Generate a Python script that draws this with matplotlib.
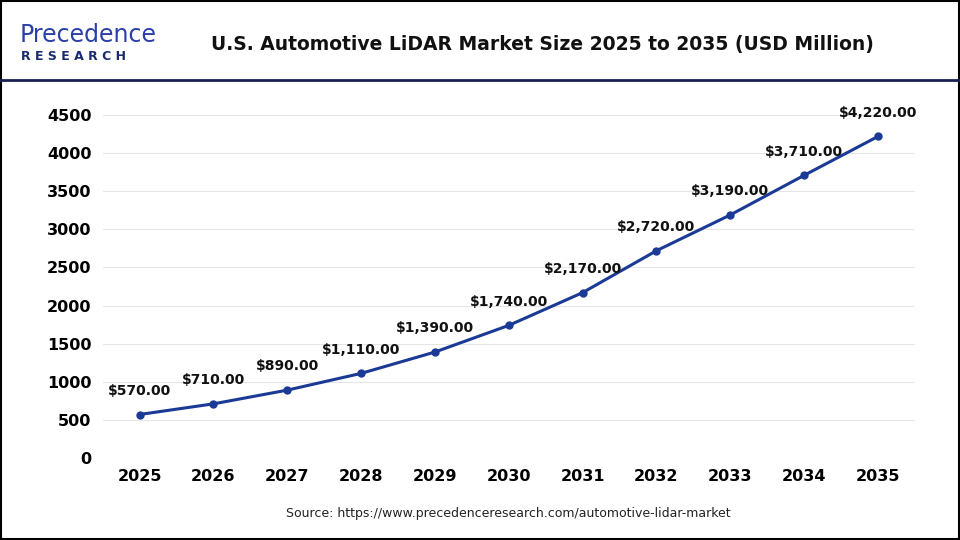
import matplotlib
matplotlib.use("Agg")
import matplotlib.pyplot as plt
from matplotlib.lines import Line2D

years = [2025, 2026, 2027, 2028, 2029, 2030, 2031, 2032, 2033, 2034, 2035]
values = [570, 710, 890, 1110, 1390, 1740, 2170, 2720, 3190, 3710, 4220]
yticks = [0, 500, 1000, 1500, 2000, 2500, 3000, 3500, 4000, 4500]

plt.rcParams['font.family'] = ['DejaVu Sans']
fig = plt.figure(figsize=(9.6, 5.4), dpi=100)
ax = fig.add_axes([0.107, 0.152, 0.846, 0.663])
ax.plot(years, values, color='#1a3a96', lw=2.2, marker='o', ms=5, zorder=3)
for x, v in zip(years, values):
    ax.annotate(f"${v:,.2f}", (x, v), xytext=(0, 12), textcoords='offset points',
                ha='center', va='bottom', fontsize=10, fontweight='bold', color='#111111')
ax.set_xlim(2024.5, 2035.5)
ax.set_ylim(0, 4700)
ax.set_xticks(years)
ax.set_yticks(yticks)
ax.tick_params(axis='both', length=0, labelsize=11.5, pad=8)
for lab in ax.get_xticklabels() + ax.get_yticklabels():
    lab.set_fontweight('bold')
ax.grid(axis='y', color='#e6e6e6', lw=0.8)
ax.set_axisbelow(True)
for s in ax.spines.values():
    s.set_visible(False)

fig.text(0.565, 0.918, "U.S. Automotive LiDAR Market Size 2025 to 2035 (USD Million)",
         ha='center', va='center', fontsize=13.5, fontweight='bold', color='#111111')
fig.text(0.02, 0.935, "Precedence", fontsize=17, color='#2a3fa8', va='center', ha='left')
fig.text(0.022, 0.895, "R E S E A R C H", fontsize=9, fontweight='bold', color='#1a2a6e', va='center', ha='left')
fig.text(0.53, 0.05, "Source: https://www.precedenceresearch.com/automotive-lidar-market",
         ha='center', va='center', fontsize=9, color='#222222')
fig.add_artist(Line2D([0, 1], [0.852, 0.852], transform=fig.transFigure, color='#1a2050', lw=2))
fig.add_artist(plt.Rectangle((0.001, 0.001), 0.998, 0.998, transform=fig.transFigure,
                             fill=False, edgecolor='black', lw=1.5))
fig.savefig("out.png", dpi=100)
